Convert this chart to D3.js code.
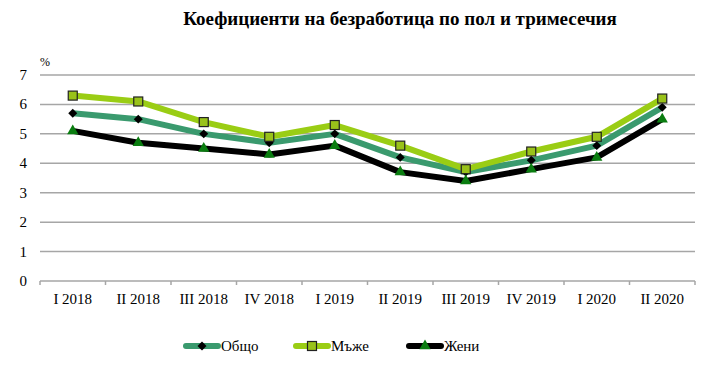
<!DOCTYPE html>
<html><head><meta charset="utf-8">
<script src="https://cdn.jsdelivr.net/npm/d3@7"></script>
<style>body{margin:0;background:#fff} text{font-family:"Liberation Serif","Times New Roman",serif}</style>
</head><body>
<svg id="c" width="711" height="391"></svg>
<script>
const categories = ["I 2018","II 2018","III 2018","IV 2018","I 2019","II 2019","III 2019","IV 2019","I 2020","II 2020"];
const total = [5.7,5.5,5.0,4.7,5.0,4.2,3.7,4.1,4.6,5.9];
const men   = [6.3,6.1,5.4,4.9,5.3,4.6,3.8,4.4,4.9,6.2];
const women = [5.1,4.7,4.5,4.3,4.6,3.7,3.4,3.8,4.2,5.5];
const yTicks = [0,1,2,3,4,5,6,7];
const seriesNames = ["Общо","Мъже","Жени"];
const title = "Коефициенти на безработица по пол и тримесечия";

(function(){
const svg = d3.select("#c");
const pL = 40, pR = 695, pT = 75, pB = 281;
const x = d3.scaleBand().domain(categories).range([pL,pR]);
const y = d3.scaleLinear().domain([0,7]).range([pB,pT]);

svg.append("text").attr("x",400).attr("y",25).attr("text-anchor","middle")
  .attr("font-weight","bold").attr("font-size",19).text(title);

svg.append("g").selectAll("line").data(yTicks).join("line")
  .attr("x1",pL).attr("x2",pR).attr("y1",d=>y(d)).attr("y2",d=>y(d))
  .attr("stroke","#a6a6a6").attr("stroke-width",1.5);
svg.append("g").selectAll("text").data(yTicks).join("text")
  .attr("x",27).attr("y",d=>y(d)+5).attr("text-anchor","end")
  .attr("font-size",15).text(d=>d);
svg.append("text").attr("x",40).attr("y",66).attr("font-size",12).text("%");

const tickPos = categories.map(c=>x(c)).concat([pR]);
svg.append("g").selectAll("line").data(tickPos).join("line")
  .attr("x1",d=>d).attr("x2",d=>d).attr("y1",pB).attr("y2",pB+4)
  .attr("stroke","#a6a6a6").attr("stroke-width",1.5);
svg.append("g").selectAll("text").data(categories).join("text")
  .attr("x",d=>x(d)+x.bandwidth()/2).attr("y",304).attr("text-anchor","middle")
  .attr("font-size",15).text(d=>d);

const series = [
  {name:seriesNames[0], vals:total, color:"#3a9a6e", marker:"diamond", mfill:"#000", mstroke:"#000"},
  {name:seriesNames[1], vals:men, color:"#9acd14", marker:"square", mfill:"#99c21a", mstroke:"#222"},
  {name:seriesNames[2], vals:women, color:"#000", marker:"triangle", mfill:"#0a7d10", mstroke:"#0a7d10"}
];
const cx = i => x(categories[i]) + x.bandwidth()/2;
const line = d3.line().x((d,i)=>cx(i)).y(d=>y(d));

function marker(g, s, px, py){
  if(s.marker==="diamond"){
    g.append("path").attr("d",d3.symbol(d3.symbolSquare,40)()).attr("transform",`translate(${px},${py}) rotate(45)`)
      .attr("fill",s.mfill);
  } else if(s.marker==="square"){
    g.append("rect").attr("x",px-4.5).attr("y",py-4.5).attr("width",9).attr("height",9)
      .attr("fill",s.mfill).attr("stroke",s.mstroke).attr("stroke-width",1.2);
  } else {
    g.append("path").attr("d",d3.symbol(d3.symbolTriangle,55)()).attr("transform",`translate(${px},${py})`)
      .attr("fill",s.mfill);
  }
}

series.forEach(s=>{
  svg.append("path").datum(s.vals).attr("d",line).attr("fill","none")
    .attr("stroke",s.color).attr("stroke-width",6).attr("stroke-linejoin","round");
});
series.forEach(s=>{
  const g = svg.append("g");
  s.vals.forEach((v,i)=>marker(g,s,cx(i),y(v)));
});

const legX = [186, 296, 409];
series.forEach((s,i)=>{
  const g = svg.append("g");
  g.append("line").attr("x1",legX[i]).attr("x2",legX[i]+32).attr("y1",346).attr("y2",346)
    .attr("stroke",s.color).attr("stroke-width",6).attr("stroke-linecap","round");
  marker(g,s,legX[i]+16,346);
  g.append("text").attr("x",legX[i]+35).attr("y",351).attr("font-size",15).text(s.name);
});
})();
</script>
</body></html>
